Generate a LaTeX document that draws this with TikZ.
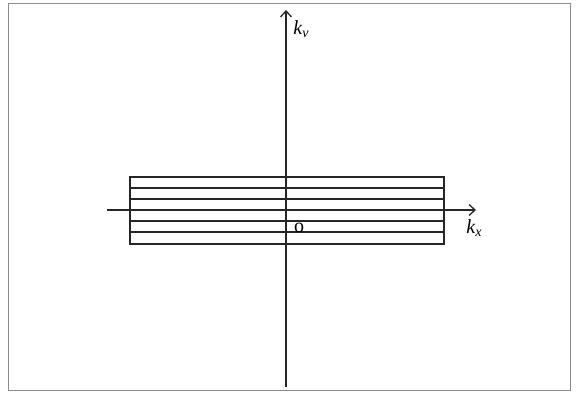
\documentclass[tikz,border=0pt]{standalone}
\usepackage{fontspec}
\setmainfont{Liberation Serif}
\usetikzlibrary{arrows.meta}
\begin{document}
\begin{tikzpicture}[x=1pt,y=-1pt,
  band/.style={line width=1.8pt,black!85},
  axis/.style={line width=1.3pt,black!85,-{Straight Barb[length=6pt,width=11pt,line width=1.3pt]}},
  lbl/.style={inner sep=0pt,font=\fontsize{20}{24}\selectfont}]
\useasboundingbox (0,0) rectangle (577,393);
\node[draw=black!45,line width=1pt,minimum width=562pt,minimum height=387pt,inner sep=0pt,anchor=north west] (frame) at (8,3) {};
% band rectangle and its lines
\node[draw,band,minimum width=314pt,minimum height=67pt,inner sep=0pt,anchor=north west] (box) at (129,176) {};
\foreach \y [count=\i] in {188,199,221,232}{
  \coordinate (l\i) at (129,\y);
  \coordinate (r\i) at (443,\y);
  \draw[band] (l\i) -- (r\i);
}
% axes
\coordinate (xs) at (107,210);
\coordinate (xe) at (476,210);
\coordinate (ys) at (286,387);
\coordinate (ye) at (286,10);
\draw[band] (box.west |- xs) -- (box.east |- xs);
\draw[axis] (xs) -- (xe);
\draw[axis] (ys) -- (ye);
\node[lbl] (kx) at (474,228) {\textit{k}\raisebox{-0.25ex}{\fontsize{14}{16}\selectfont\textit{x}}};
\node[lbl] (ky) at (301,29) {\textit{k}\raisebox{-0.25ex}{\fontsize{14}{16}\selectfont\textit{v}}};
\node[lbl] (o) at (299,228) {o};
\end{tikzpicture}
\end{document}
